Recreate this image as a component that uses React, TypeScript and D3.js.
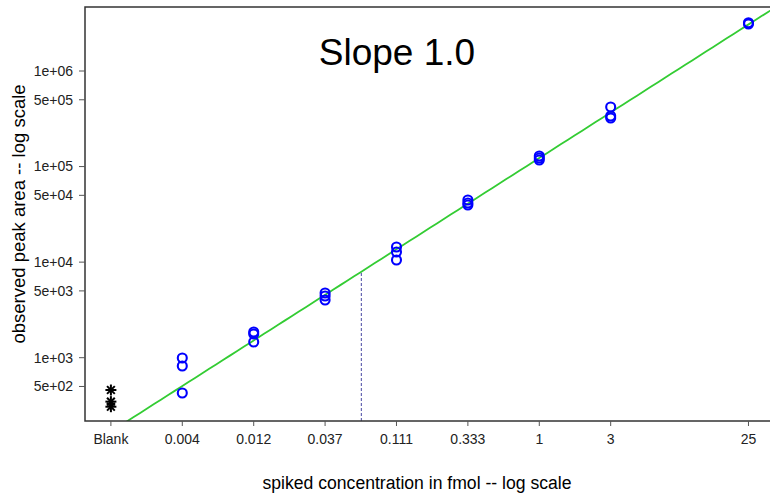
import React from "react";
import * as d3 from "d3";

// ---- data ----
const xTickLabels = ["Blank", "0.004", "0.012", "0.037", "0.111", "0.333", "1", "3", "25"];
const xTickValues = [0.001372, 0.004115, 0.01235, 0.03704, 0.1111, 0.3333, 1, 3, 25];
const spikedConc = [0.004115, 0.01235, 0.03704, 0.1111, 0.3333, 1, 3, 25];

const blankConc = 0.001372;
const blankAreas = [459, 347, 307];

const areas004 = [993, 818, 427];
const areas012 = [1858, 1771, 1460];
const areas037 = [4753, 4425, 4017];
const areas111 = [14390, 12770, 10520];
const areas333 = [44700, 41590, 39660];
const areas1 = [129000, 123000, 117000];
const areas3 = [420000, 338000, 322000];
const areas25 = [3200000, 3100000];
const spikedAreas = [areas004, areas012, areas037, areas111, areas333, areas1, areas3, areas25];

const yTickValues = [500, 1000, 5000, 10000, 50000, 100000, 500000, 1000000];
const yTickLabels = ["5e+02", "1e+03", "5e+03", "1e+04", "5e+04", "1e+05", "5e+05", "1e+06"];

const fitSlope = 1.0; // log-log slope
const fitCoef = 122800; // area at 1 fmol
const lodConc = 0.0647;

const xDomain = [0.000921, 37.6];
const yDomain = [217.6, 4.674e6];

const FONT = "'Liberation Sans', Arial, Helvetica, sans-serif";

export default function App() {
  const W = 770, H = 495;
  const L = 85, R = 775, T = 7, B = 421;
  const x = d3.scaleLog().domain(xDomain).range([L, R]);
  const y = d3.scaleLog().domain(yDomain).range([B, T]);

  const fit = (c: number) => fitCoef * Math.pow(c, fitSlope);
  const fitPts: [number, number][] = d3
    .range(0, 101)
    .map((i) => {
      const lc = Math.log(xDomain[0]) + (i / 100) * (Math.log(xDomain[1]) - Math.log(xDomain[0]));
      const c = Math.exp(lc);
      return [x(c), y(fit(c))];
    });
  const linePath = d3.line()(fitPts) || "";

  const points: { c: number; a: number }[] = [];
  spikedConc.forEach((c, i) => spikedAreas[i].forEach((a) => points.push({ c, a })));

  const star = (cx: number, cy: number, k: number) => {
    const s = 5.5;
    const d = s * 0.7071;
    return (
      <g key={k} stroke="#000" strokeWidth={2}>
        <line x1={cx - s} y1={cy} x2={cx + s} y2={cy} />
        <line x1={cx} y1={cy - s} x2={cx} y2={cy + s} />
        <line x1={cx - d} y1={cy - d} x2={cx + d} y2={cy + d} />
        <line x1={cx - d} y1={cy + d} x2={cx + d} y2={cy - d} />
      </g>
    );
  };

  return (
    <svg
      width={W}
      height={H}
      style={{ position: "absolute", left: 0, top: 0, background: "#fff" }}
      fontFamily={FONT}
    >
      <defs>
        <clipPath id="plotclip">
          <rect x={L} y={T} width={R - L} height={B - T} />
        </clipPath>
      </defs>
      <rect x={0} y={0} width={W} height={H} fill="#fff" />

      {/* fit line */}
      <path d={linePath} fill="none" stroke="#33cc33" strokeWidth={1.8} clipPath="url(#plotclip)" />

      {/* LOD dashed line */}
      <line
        x1={x(lodConc)}
        x2={x(lodConc)}
        y1={B}
        y2={y(fit(lodConc))}
        stroke="#333399"
        strokeWidth={0.9}
        strokeDasharray="3,2"
      />

      {/* points */}
      {points.map((p, i) => (
        <circle key={i} cx={x(p.c)} cy={y(p.a)} r={4.5} fill="none" stroke="#0000ff" strokeWidth={2.1} />
      ))}
      {blankAreas.map((a, i) => star(x(blankConc), y(a), i))}

      {/* frame */}
      <rect x={L} y={T} width={R - L} height={B - T} fill="none" stroke="#333" strokeWidth={1.5} />

      {/* y axis */}
      {yTickValues.map((v, i) => (
        <g key={i}>
          <line x1={L - 6} x2={L} y1={y(v)} y2={y(v)} stroke="#555" strokeWidth={1} />
          <text x={L - 12} y={y(v)} dy="0.35em" textAnchor="end" fontSize={14} fill="#222">
            {yTickLabels[i]}
          </text>
        </g>
      ))}

      {/* x axis */}
      {xTickValues.map((v, i) => (
        <g key={i}>
          <line x1={x(v)} x2={x(v)} y1={B} y2={B + 5} stroke="#555" strokeWidth={1} />
          <text x={x(v)} y={444} textAnchor="middle" fontSize={14} fill="#222">
            {xTickLabels[i]}
          </text>
        </g>
      ))}

      {/* title */}
      <text x={397} y={65} textAnchor="middle" fontSize={37} fill="#000">
        Slope 1.0
      </text>

      {/* axis labels */}
      <text x={417} y={489} textAnchor="middle" fontSize={17.6} fill="#000">
        spiked concentration in fmol -- log scale
      </text>
      <text
        transform={`translate(25,214) rotate(-90)`}
        textAnchor="middle"
        fontSize={18.5}
        fill="#000"
      >
        observed peak area -- log scale
      </text>
    </svg>
  );
}
